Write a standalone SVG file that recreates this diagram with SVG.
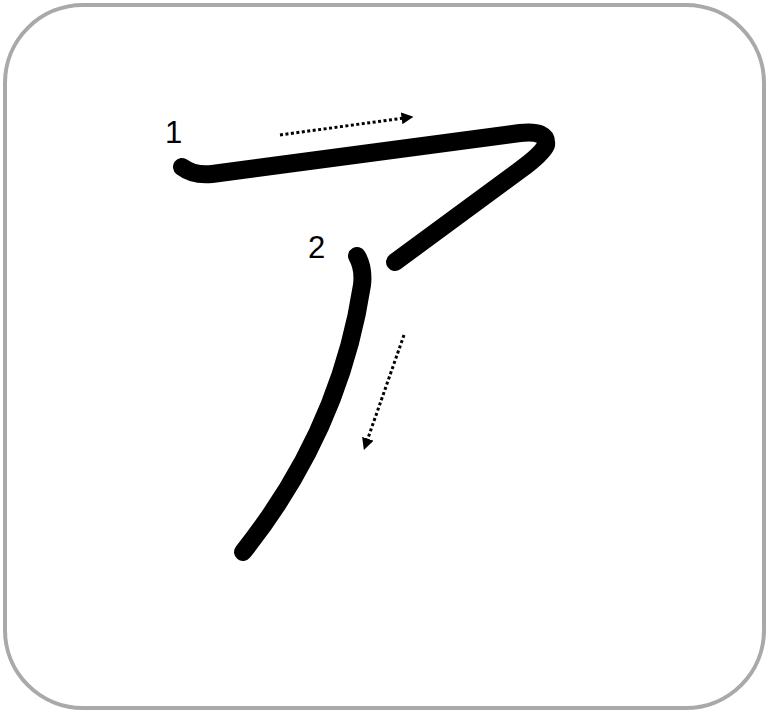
<svg xmlns="http://www.w3.org/2000/svg" width="769" height="713" viewBox="0 0 769 713">
<style>
.frame{fill:#fff;stroke:#a9a9a9;stroke-width:4}
.stroke{fill:none;stroke:#000;stroke-width:18;stroke-linecap:round;stroke-linejoin:round}
.guide{fill:none;stroke:#000;stroke-width:3;stroke-dasharray:3 2.5}
.num{font-family:"Liberation Sans",Arial,sans-serif;font-size:31px;fill:#000}
</style>
<defs>
<marker id="ah" viewBox="0 0 10 10" refX="2" refY="5" markerWidth="4" markerHeight="4" orient="auto" markerUnits="strokeWidth">
<path d="M0,0 L10,5 L0,10 z" fill="#000"/>
</marker>
</defs>
<rect class="frame" x="5" y="5" width="759" height="703" rx="78" ry="78"/>
<g id="stroke1">
<path class="stroke" d="M182,167 Q194,176 212,174 L520,133 Q548,130 546,145 Q542,154 520,170 L395,262"/>
<text class="num" x="165" y="143">1</text>
</g>
<g id="stroke2">
<path class="stroke" d="M357,256 Q364,268 362,285 Q340,430 243,552"/>
<text class="num" x="308" y="258">2</text>
</g>
<g id="connectors">
<path class="guide" d="M280,135 L404,118" marker-end="url(#ah)"/>
<path class="guide" d="M404,335 L367,441" marker-end="url(#ah)"/>
</g>
</svg>
